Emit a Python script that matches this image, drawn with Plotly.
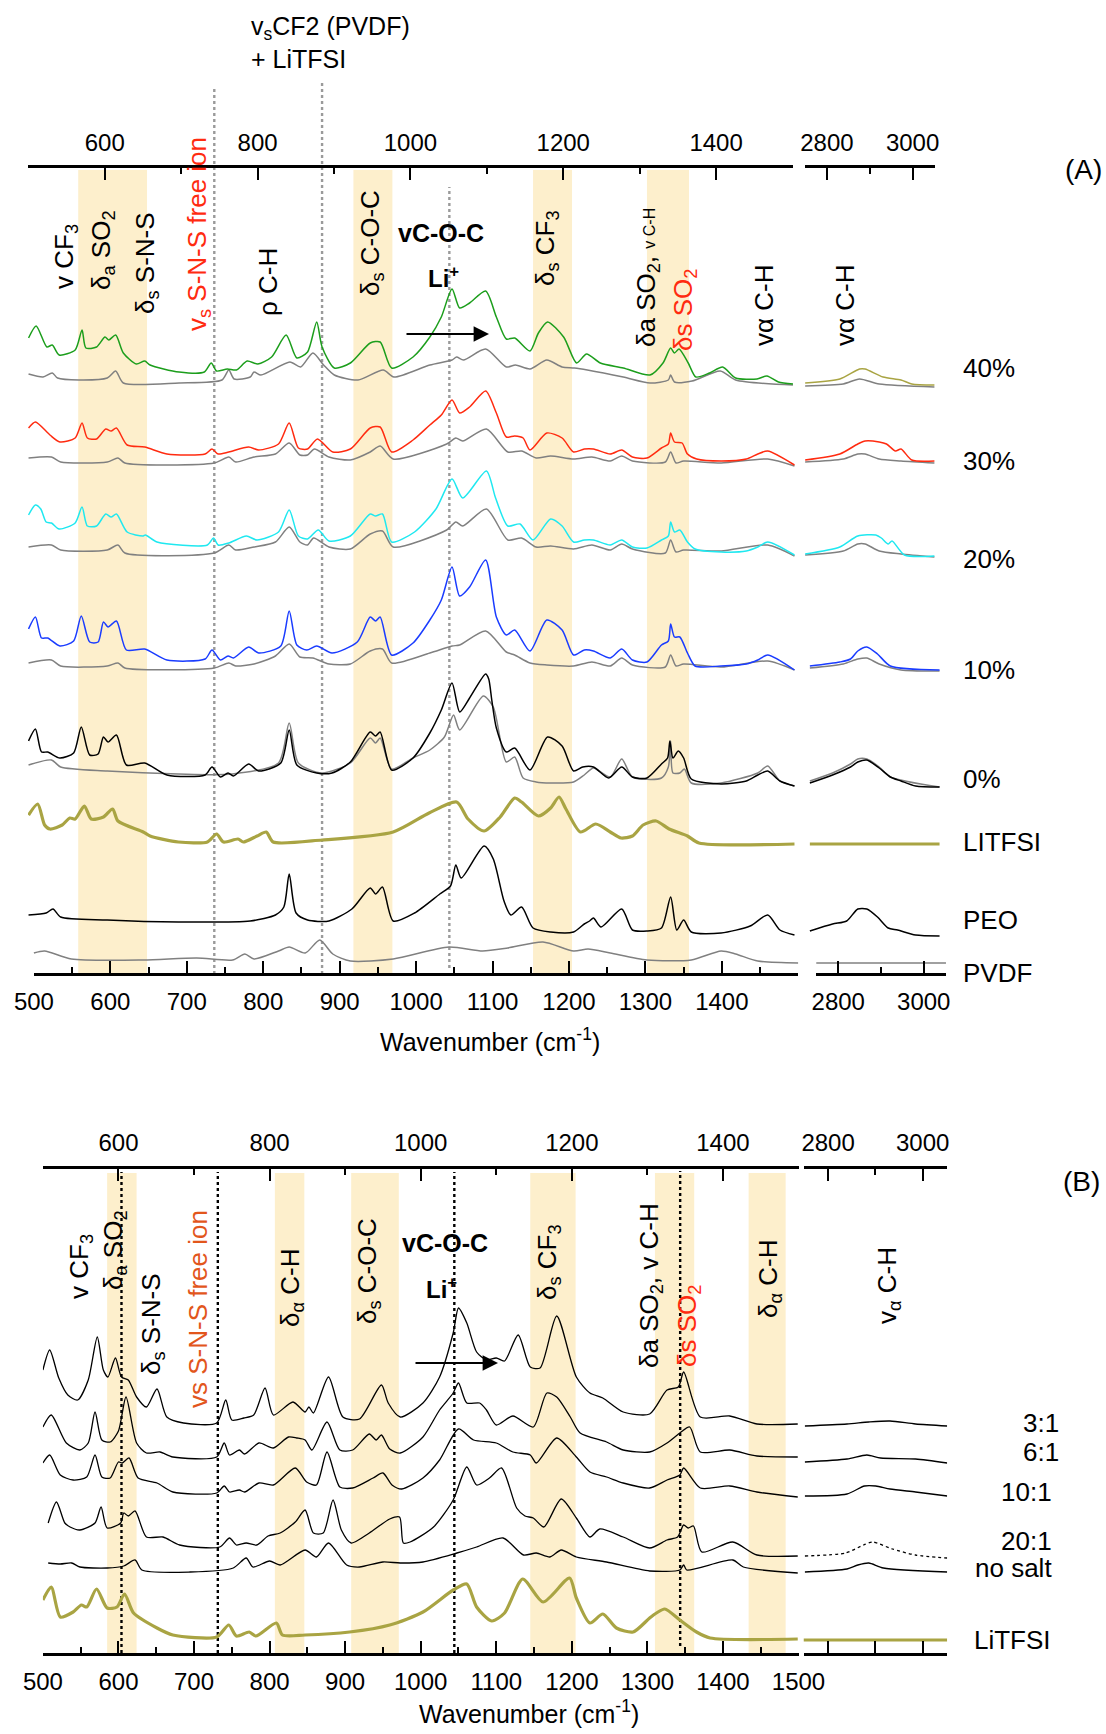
import plotly.graph_objects as go

W, H = 1106, 1734
FONT = "Liberation Sans, Arial, Helvetica, sans-serif"

# ================= Panel A : spectra (wavenumber, intensity a.u.) =================
A40 = [(493,635),(503,647),(517,626),(524,628),(533,618),(554,623),(563,643),(568,625),(582,626),(593,636),
       (598,633),(607,638),(617,620),(634,609),(645,612),(652,608),(690,601),(723,601),(732,610),(739,602),
       (753,604),(765,603),(779,612),(793,609),(811,616),(830,638),(844,615),(858,621),(870,651),(877,626),
       (893,605),(914,610),(940,630),(953,631),(968,605),(996,616),(1018,636),(1033,656),(1047,684),(1057,665),
       (1070,670),(1091,682),(1105,656),(1118,634),(1129,635),(1149,622),(1160,640),(1172,651),(1193,636),
       (1210,610),(1223,619),(1241,610),(1271,605),(1306,598),(1323,610),(1333,625),(1338,620),(1344,624),
       (1356,610),(1366,596),(1384,600),(1401,606),(1418,595),(1446,594),(1459,597),(1474,591),(1493,589)]
A40g = [(493,599),(512,596),(524,600),(531,595),(559,593),(596,595),(607,602),(617,590),(690,590),(746,593),
        (755,603),(762,594),(783,596),(788,601),(797,598),(835,611),(849,606),(865,620),(879,608),(893,598),
        (924,593),(957,603),(971,596),(1018,608),(1047,613),(1053,616),(1062,613),(1091,624),(1118,606),
        (1130,608),(1149,604),(1171,613),(1191,606),(1207,605),(1224,603),(1271,596),(1306,590),(1330,593),
        (1333,598),(1338,591),(1361,592),(1398,602),(1418,593),(1493,588)]
A30 = [(493,545),(502,551),(521,538),(534,531),(554,535),(563,550),(570,535),(582,534),(594,544),
       (601,542),(608,545),(622,528),(645,526),(674,519),(724,519),(733,524),(741,519),(755,521),
       (781,526),(794,523),(820,529),(834,550),(846,525),(858,524),(871,534),(891,521),(914,524),(940,545),
       (953,546),(968,521),(996,533),(1018,548),(1033,558),(1047,573),(1057,560),(1070,566),(1091,582),
       (1105,560),(1118,536),(1129,537),(1140,535),(1149,523),(1171,540),(1191,535),(1206,521),(1220,524),
       (1232,524),(1254,519),(1269,523),(1283,516),(1302,515),(1321,525),(1330,529),(1333,540),(1338,531),
       (1348,530),(1355,519),(1367,514),(1399,512),(1432,514),(1447,519),(1460,522),(1495,508)]
A30g = [(493,515),(523,516),(535,511),(596,511),(610,515),(619,510),(736,510),(755,516),(764,511),(788,516),
        (816,519),(834,530),(848,518),(858,518),(867,524),(886,516),(914,513),(940,521),(953,527),(970,514),
        (1040,529),(1052,535),(1061,532),(1092,544),(1120,521),(1138,522),(1157,515),(1176,517),(1206,514),
        (1230,516),(1254,512),(1269,517),(1283,512),(1326,511),(1333,521),(1340,510),(1350,512),(1399,510),
        (1460,514),(1495,507)]
A20 = [(493,458),(502,468),(509,464),(516,451),(523,450),(533,444),(554,450),(563,466),(570,447),(582,447),
       (594,459),(601,456),(608,459),(622,441),(643,437),(646,438),(661,431),(727,428),(735,435),(741,428),
       (755,430),(778,437),(792,433),(820,441),(834,463),(846,437),(858,434),(872,443),(886,432),(914,437),
       (940,459),(947,457),(956,459),(968,431),(998,441),(1026,464),(1047,494),(1061,475),(1092,502),
       (1104,475),(1120,447),(1136,449),(1153,433),(1176,454),(1191,447),(1206,431),(1220,433),(1232,433),
       (1254,428),(1269,433),(1283,426),(1302,425),(1321,433),(1330,437),(1333,451),(1338,441),(1345,443),
       (1355,431),(1365,424),(1399,421),(1432,422),(1447,426),(1460,431),(1495,418)]
A20g = [(493,426),(523,428),(535,423),(596,423),(610,428),(619,420),(736,420),(755,428),(764,423),(788,426),
        (816,431),(834,446),(848,431),(858,428),(866,435),(886,426),(914,424),(940,439),(956,442),(970,426),
        (1040,443),(1052,451),(1061,447),(1092,464),(1120,433),(1138,435),(1157,426),(1176,427),(1206,424),
        (1230,428),(1254,423),(1269,429),(1283,424),(1326,420),(1333,433),(1340,421),(1350,423),(1399,422),
        (1460,428),(1495,417)]
A10 = [(493,344),(502,356),(510,335),(518,335),(534,327),(552,332),(562,357),(573,331),(584,331),(591,351),
       (597,346),(608,352),(621,323),(645,324),(674,313),(724,314),(733,323),(744,313),(754,317),
       (761,315),(781,326),(794,320),(823,327),(834,362),(844,328),(857,323),(870,327),(890,320),(923,331),
       (940,356),(947,352),(953,356),(968,318),(996,330),(1018,353),(1033,373),(1047,406),(1057,377),
       (1070,386),(1091,413),(1105,356),(1118,338),(1129,343),(1149,322),(1171,353),(1191,343),(1206,318),
       (1220,323),(1232,322),(1254,315),(1269,324),(1283,313),(1302,311),(1321,328),(1330,332),(1333,349),
       (1338,336),(1345,336),(1355,320),(1365,307),(1399,307),(1432,309),(1447,313),(1460,318),(1495,303)]
A10g = [(493,310),(523,313),(535,307),(596,307),(610,310),(619,305),(736,305),(755,310),(764,307),(788,309),
        (816,317),(834,329),(848,316),(865,315),(886,309),(914,309),(940,322),(956,324),(968,310),(1018,320),
        (1047,327),(1057,328),(1091,342),(1118,321),(1129,318),(1149,310),(1171,308),(1206,307),(1230,311),
        (1254,307),(1269,315),(1283,308),(1326,306),(1333,318),(1340,307),(1350,309),(1399,306),(1460,312),
        (1495,303)]
A0 = [(493,232),(502,244),(510,221),(518,221),(534,215),(552,220),(562,246),(573,218),(584,219),(591,236),
      (597,231),(608,238),(621,208),(645,210),(674,198),(724,198),(733,206),(744,196),(754,200),(761,197),
      (781,209),(794,202),(823,210),(834,243),(844,208),(870,200),(890,200),(914,211),(940,241),(947,237),
      (953,241),(968,203),(996,215),(1018,240),(1033,263),(1047,290),(1057,261),(1070,275),(1091,299),
      (1095,294),(1099,273),(1105,245),(1118,221),(1129,225),(1149,203),(1172,236),(1191,227),(1206,202),
      (1218,206),(1232,206),(1252,195),(1269,206),(1283,196),(1302,195),(1321,209),(1329,215),(1332,232),
      (1336,215),(1343,222),(1350,215),(1360,194),(1399,189),(1432,192),(1447,198),(1460,202),(1476,192),
      (1495,187)]
A0g = [(493,208),(523,213),(535,206),(596,202),(689,199),(759,199),(820,210),(834,250),(846,210),(877,200),
       (914,210),(940,235),(947,230),(953,235),(968,204),(996,215),(1018,223),(1037,236),(1049,258),
       (1057,243),(1088,277),(1101,266),(1118,211),(1129,216),(1140,195),(1157,191),(1176,190),(1206,191),
       (1220,198),(1232,205),(1254,196),(1269,214),(1283,196),(1321,195),(1330,206),(1333,232),(1336,200),
       (1345,200),(1351,204),(1360,190),(1399,190),(1447,200),(1460,207),(1476,192),(1495,187)]
A_LiTFSI = [(493,158),(505,169),(514,148),(521,144),(537,148),(547,155),(554,154),(566,167),(575,154),
            (591,156),(603,164),(610,152),(643,141),(652,137),(689,131),(727,131),(739,139),(748,131),
            (767,134),(774,131),(792,137),(804,141),(813,131),(877,133),(970,141),(1017,160),(1053,171),
            (1068,154),(1089,142),(1110,156),(1129,175),(1138,171),(1160,157),(1176,165),(1187,176),
            (1196,164),(1215,141),(1235,149),(1254,141),(1268,135),(1283,137),(1297,148),(1314,152),
            (1331,144),(1355,137),(1370,130),(1495,129)]
A_PEO = [(493,58),(516,60),(525,64),(535,56),(596,53),(689,51),(783,52),(816,58),(827,66),(834,99),(843,60),
         (858,53),(886,52),(916,64),(940,85),(947,79),(956,86),(970,52),(998,60),(1031,79),(1045,87),
         (1052,108),(1059,95),(1089,127),(1101,114),(1115,72),(1124,58),(1138,66),(1153,45),(1176,41),
         (1206,41),(1220,49),(1227,52),(1232,55),(1242,46),(1269,64),(1283,43),(1302,42),(1321,45),(1333,76),
         (1341,43),(1350,53),(1360,41),(1399,40),(1437,47),(1460,58),(1476,43),(1495,38)]
A_PVDF = [(500,20),(514,22),(549,14),(643,13),(713,15),(760,13),(776,19),(788,14),(820,22),(834,26),(855,20),
          (874,33),(891,19),(914,12),(970,14),(1043,26),(1087,22),(1120,25),(1166,31),(1206,22),(1225,24),
          (1254,20),(1302,13),(1360,13),(1399,22),(1418,19),(1447,12),(1500,10)]
# C-H stretching region (panel A)
A40_CH = [(2749,590),(2830,594),(2876,604),(2889,604),(2931,596),(2973,593),(2998,589),(3051,588)]
A40g_CH = [(2749,587),(2838,589),(2876,594),(2922,589),(3051,586)]
A30_CH = [(2749,513),(2830,519),(2872,529),(2889,532),(2922,531),(2939,529),(2960,522),(2973,524),(2998,513),(3051,512)]
A30g_CH = [(2749,511),(2838,514),(2872,519),(2889,519),(2922,514),(2973,512),(3051,510)]
A20_CH = [(2749,419),(2830,426),(2872,437),(2914,438),(2927,435),(2943,429),(2952,432),(2981,418),(3051,417)]
A20g_CH = [(2749,418),(2838,422),(2872,429),(2889,429),(2922,422),(2973,419),(3051,416)]
A10_CH = [(2760,307),(2830,311),(2855,314),(2872,322),(2893,326),(2918,319),(2948,307),(3063,303)]
A10g_CH = [(2760,305),(2838,309),(2872,314),(2893,315),(2922,309),(2973,303),(3063,302)]
A0_CH = [(2760,190),(2813,198),(2855,206),(2872,211),(2893,213),(2922,205),(2948,196),(2973,192),(3007,187),(3063,186)]
A0g_CH = [(2760,192),(2813,200),(2855,209),(2872,214),(2893,214),(2922,206),(2948,196),(3063,186)]
A_LiTFSI_CH = [(2760,129),(3063,129)]
A_PEO_CH = [(2760,42),(2813,49),(2846,52),(2872,64),(2893,64),(2918,56),(2943,45),(2965,43),(3007,38),(3063,37)]
A_PVDF_CH = [(2775,10),(3078,10)]

A_labels = ["40%", "30%", "20%", "10%", "0%", "LITFSI", "PEO", "PVDF"]
A_bands = [(558,648),(918,969),(1153,1204),(1302,1357)]
A_guides = [736, 877, 1043.5]

# ================= Panel B =================
B31 = [(500,283),(509,303),(521,275),(533,258),(546,253),(560,273),(572,316),(580,283),(586,276),(596,295),
       (604,276),(613,273),(624,256),(637,246),(651,264),(664,236),(686,230),(730,230),(742,253),(750,233),
       (766,235),(779,238),(794,265),(805,238),(831,251),(847,241),(852,246),(858,240),(878,276),(897,236),
       (919,234),(948,268),(957,250),(973,236),(1003,250),(1025,276),(1043,320),(1050,345),(1061,330),
       (1074,301),(1087,293),(1100,295),(1111,292),(1129,318),(1145,286),(1158,285),(1180,337),(1206,276),
       (1224,260),(1241,255),(1268,241),(1303,239),(1326,263),(1341,266),(1348,281),(1370,236),(1409,237),
       (1445,229),(1499,229)]
B61 = [(500,226),(511,238),(531,210),(549,203),(560,210),(569,241),(578,213),(589,211),(600,222),(610,256),
       (624,210),(637,200),(655,201),(672,196),(730,196),(740,210),(747,198),(760,203),(767,199),(786,210),
       (805,205),(825,216),(836,215),(847,213),(856,203),(876,231),(893,203),(910,203),(932,219),(941,213),
       (948,218),(959,204),(973,200),(1003,216),(1025,243),(1043,260),(1050,270),(1061,250),(1078,250),
       (1087,243),(1100,228),(1122,237),(1149,226),(1167,260),(1180,256),(1198,236),(1211,220),(1246,211),
       (1268,203),(1303,201),(1326,210),(1343,220),(1356,226),(1370,201),(1409,203),(1445,197),(1499,196)]
B101 = [(500,190),(509,198),(523,178),(540,173),(558,176),(569,198),(578,176),(589,175),(600,191),(605,190),
        (614,195),(626,175),(651,170),(672,161),(730,160),(740,167),(747,161),(760,163),(767,161),(786,170),
        (805,168),(834,185),(849,171),(862,168),(876,201),(893,166),(910,165),(937,175),(950,180),(962,168),
        (975,164),(1003,175),(1025,193),(1050,224),(1070,213),(1100,210),(1122,201),(1145,198),(1153,190),
        (1180,215),(1206,196),(1224,181),(1246,176),(1268,170),(1303,165),(1326,173),(1343,178),(1348,185),
        (1370,165),(1409,167),(1445,161),(1499,156)]
B201 = [(507,130),(518,151),(529,130),(536,126),(549,123),(569,130),(577,146),(585,125),(603,130),(607,140),
        (613,137),(622,142),(637,116),(659,116),(681,108),(734,106),(747,115),(756,108),(769,110),(783,108),
        (798,117),(814,120),(834,131),(847,143),(858,120),(871,120),(884,153),(895,123),(908,110),(932,120),
        (959,134),(972,136),(977,110),(986,111),(1017,126),(1043,153),(1061,186),(1074,168),(1091,175),
        (1107,185),(1127,145),(1138,137),(1149,135),(1163,126),(1186,154),(1206,135),(1224,116),(1237,124),
        (1268,116),(1303,105),(1326,113),(1340,116),(1348,128),(1354,125),(1361,127),(1372,101),(1413,111),
        (1445,98),(1499,97)]
B_nosalt = [(507,90),(523,89),(538,90),(549,86),(585,85),(607,87),(622,93),(631,83),(695,81),(752,85),(769,95),
            (778,86),(800,92),(814,88),(847,103),(862,96),(878,110),(902,88),(919,86),(950,91),(973,90),
            (1003,91),(1048,100),(1074,106),(1109,115),(1136,98),(1153,100),(1171,96),(1186,103),(1206,96),
            (1246,91),(1303,82),(1343,83),(1348,88),(1352,83),(1413,93),(1427,86),(1499,80)]
B_LiTFSI = [(500,53),(511,66),(523,36),(540,41),(551,48),(558,46),(571,64),(585,45),(598,46),(608,59),(620,40),
            (651,25),(672,18),(730,16),(746,28),(756,17),(773,21),(782,17),(809,30),(817,18),(847,18),(906,21),
            (959,28),(1003,41),(1043,63),(1061,69),(1074,46),(1094,32),(1111,40),(1135,74),(1162,51),(1197,75),
            (1206,55),(1224,30),(1241,39),(1259,25),(1281,21),(1303,35),(1312,40),(1323,44),(1343,33),(1365,21),
            (1383,15),(1499,14)]
B31_CH = [(2751,227),(2840,229),(2886,231),(2931,232),(2985,229),(3052,227)]
B61_CH = [(2751,191),(2840,194),(2882,198),(2911,195),(2985,194),(3052,190)]
B101_CH = [(2751,157),(2840,159),(2877,167),(2901,167),(2931,164),(2985,161),(3052,157)]
B201_CH = [(2751,97),(2837,100),(2875,108),(2894,111),(2936,104),(2985,98),(3052,95)]
B_nosalt_CH = [(2751,81),(2840,84),(2863,88),(2886,90),(2917,85),(3052,81)]
B_LiTFSI_CH = [(2748,13),(3052,13)]

B_labels = ["3:1", "6:1", "10:1", "20:1", "no salt", "LiTFSI"]
B_bands = [(585,624),(807,846),(908,971),(1145,1205),(1310,1362),(1434,1483)]
B_guides = [604, 731.5, 1044.5, 1343.4]

# ticks
A_bot_ticks = [500,600,700,800,900,1000,1100,1200,1300,1400,1500]
A_bot_text = ["500","600","700","800","900","1000","1100","1200","1300","1400"," "]
B_bot_ticks = [500,600,700,800,900,1000,1100,1200,1300,1400,1500]
TOP_ticks = [600,800,1000,1200,1400]
TOP_minor = [500,700,900,1100,1300,1500]
BOT_minor = [550,650,750,850,950,1050,1150,1250,1350,1450]
CH_ticks = [2800,3000]
CH_minor = [2900]

# ---------------- colours ----------------
GREEN, RED, CYAN, BLUE = "#1c9e1c", "#ff2b10", "#1fe8f0", "#1a3cff"
GRAY, BLACK, OLIVE = "#808080", "#000000", "#a9a443"
BAND = "#fdefcc"
ORANGE = "#e2561c"

fig = go.Figure()


def add(pts, color, xa, ya, width=1.5, dash=None, opacity=1.0):
    x = [p[0] for p in pts]
    y = [p[1] for p in pts]
    fig.add_trace(go.Scatter(x=x, y=y, mode="lines", xaxis=xa, yaxis=ya, hoverinfo="skip", showlegend=False,
                             opacity=opacity,
                             line=dict(color=color, width=width, shape="spline", smoothing=0.7, dash=dash)))

# Panel A main (hidden data axis x / y)
for pts, col, w in [(A_PVDF, GRAY, 1.5), (A_PEO, BLACK, 1.5), (A_LiTFSI, OLIVE, 3.2),
                    (A0g, GRAY, 1.5), (A0, BLACK, 1.5), (A10g, GRAY, 1.5), (A10, BLUE, 1.5),
                    (A20g, GRAY, 1.5), (A20, CYAN, 1.5), (A30g, GRAY, 1.5), (A30, RED, 1.5),
                    (A40g, GRAY, 1.5), (A40, GREEN, 1.5)]:
    add(pts, col, "x", "y", w)
# Panel A C-H region (hidden data axis x4 / y10)
for pts, col, w in [(A_PVDF_CH, GRAY, 1.5), (A_PEO_CH, BLACK, 1.5), (A_LiTFSI_CH, OLIVE, 3.2),
                    (A0g_CH, GRAY, 1.5), (A0_CH, BLACK, 1.5), (A10g_CH, GRAY, 1.5), (A10_CH, BLUE, 1.5),
                    (A20g_CH, GRAY, 1.5), (A20_CH, CYAN, 1.5), (A30g_CH, GRAY, 1.5), (A30_CH, RED, 1.5),
                    (A40g_CH, GRAY, 1.5), (A40_CH, OLIVE, 1.5)]:
    add(pts, col, "x4", "y10", w)
# invisible carriers so every drawn axis owns a subplot
add(A_PVDF, GRAY, "x2", "y3", 1, opacity=0)
add(A_PVDF, GRAY, "x3", "y4", 1, opacity=0)
add(A_PVDF_CH, GRAY, "x5", "y5", 1, opacity=0)
add(A_PVDF_CH, GRAY, "x6", "y6", 1, opacity=0)
add(B_LiTFSI, GRAY, "x8", "y7", 1, opacity=0)
add(B_LiTFSI_CH, GRAY, "x10", "y9", 1, opacity=0)
# Panel B
for pts, col, w in [(B_LiTFSI, OLIVE, 3.2), (B_nosalt, BLACK, 1.3), (B201, BLACK, 1.3), (B101, BLACK, 1.3),
                    (B61, BLACK, 1.3), (B31, BLACK, 1.3)]:
    add(pts, col, "x7", "y2", w)
for pts, col, w, d in [(B_LiTFSI_CH, OLIVE, 3.2, None), (B_nosalt_CH, BLACK, 1.3, None),
                       (B201_CH, BLACK, 1.3, "dot"), (B101_CH, BLACK, 1.3, None),
                       (B61_CH, BLACK, 1.3, None), (B31_CH, BLACK, 1.3, None)]:
    add(pts, col, "x9", "y8", w, d)


def dom(a, b):
    return [a / W, b / W]


def xaxis(domain, rng, side, anchor, tickvals=None, ticktext=None, minor=None, labels=True, visible=True):
    d = dict(domain=domain, range=rng, side=side, anchor=anchor, visible=visible, showgrid=False,
             zeroline=False, showline=True, linecolor="black", linewidth=2.6, ticks="inside", ticklen=12,
             tickwidth=2.4, tickcolor="black", showticklabels=labels, fixedrange=True, automargin=False,
             tickfont=dict(size=24, color="black", family=FONT), ticklabelstandoff=5)
    if tickvals is not None:
        d["tickmode"] = "array"
        d["tickvals"] = tickvals
        d["ticktext"] = ticktext if ticktext is not None else [str(v) for v in tickvals]
    if minor is not None:
        d["minor"] = dict(tickmode="array", tickvals=minor, ticks="inside", ticklen=6, tickwidth=2.4,
                          tickcolor="black", showgrid=False)
    return d


def yaxis(top_px, bot_px, rng, anchor):
    return dict(domain=[1 - bot_px / H, 1 - top_px / H], range=rng, visible=False, fixedrange=True,
                anchor=anchor, showgrid=False, zeroline=False, automargin=False)


layout = dict(width=W, height=H, margin=dict(l=0, r=0, t=0, b=0, pad=0, autoexpand=False),
              paper_bgcolor="white", plot_bgcolor="rgba(0,0,0,0)", showlegend=False,
              font=dict(family=FONT, color="black"))

YA = (168, 973, [0, 805])
YB = (1168.7, 1653, [0, 484.3])
# panel A axes
layout["xaxis"] = xaxis(dom(28, 798.3), [492.3, 1500], "bottom", "y", visible=False)
layout["yaxis"] = yaxis(YA[0], YA[1], YA[2], "x")
layout["xaxis4"] = xaxis(dom(804, 947), [2746.3, 3080.4], "bottom", "y10", visible=False)
layout["yaxis10"] = yaxis(YA[0], YA[1], YA[2], "x4")
layout["xaxis2"] = xaxis(dom(33.9, 798.3), [500, 1500], "bottom", "y3", A_bot_ticks, A_bot_text, BOT_minor)
layout["yaxis3"] = yaxis(YA[0], YA[1], YA[2], "x2")
layout["xaxis3"] = xaxis(dom(28.3, 792.5), [500, 1500], "top", "y4", TOP_ticks, None, TOP_minor)
layout["yaxis4"] = yaxis(YA[0], YA[1], YA[2], "x3")
layout["xaxis5"] = xaxis(dom(804.6, 935.3), [2748, 3053], "top", "y5", CH_ticks, None, CH_minor)
layout["yaxis5"] = yaxis(YA[0], YA[1], YA[2], "x5")
layout["xaxis6"] = xaxis(dom(816, 946), [2748, 3052], "bottom", "y6", CH_ticks, None, CH_minor)
layout["yaxis6"] = yaxis(YA[0], YA[1], YA[2], "x6")
# panel B axes
layout["xaxis7"] = xaxis(dom(42.9, 798.5), [500, 1500], "bottom", "y2", B_bot_ticks, None, BOT_minor)
layout["yaxis2"] = yaxis(YB[0], YB[1], YB[2], "x7")
layout["xaxis8"] = xaxis(dom(42.9, 798.5), [500, 1500], "top", "y7", TOP_ticks, None, TOP_minor)
layout["yaxis7"] = yaxis(YB[0], YB[1], YB[2], "x8")
layout["xaxis9"] = xaxis(dom(803.5, 947.2), [2748, 3052], "bottom", "y8", [2800, 2900, 3000], None, None, labels=False)
layout["yaxis8"] = yaxis(YB[0], YB[1], YB[2], "x9")
layout["xaxis10"] = xaxis(dom(803.5, 947.2), [2748, 3052], "top", "y9", CH_ticks, None, CH_minor)
layout["yaxis9"] = yaxis(YB[0], YB[1], YB[2], "x10")

fig.update_layout(**layout)

shapes = []
for a, b in A_bands:
    shapes.append(dict(type="rect", xref="x", yref="paper", x0=a, x1=b, y0=1 - 975 / H, y1=1 - 170 / H,
                       fillcolor=BAND, line=dict(width=0), layer="below"))
for a, b in B_bands:
    shapes.append(dict(type="rect", xref="x7", yref="paper", x0=a, x1=b, y0=1 - 1656 / H, y1=1 - 1173 / H,
                       fillcolor=BAND, line=dict(width=0), layer="below"))
for xv, top, bot in zip(A_guides, [89, 83, 187], [974, 974, 968]):
    shapes.append(dict(type="line", xref="x", yref="paper", x0=xv, x1=xv, y0=1 - bot / H, y1=1 - top / H,
                       line=dict(color="#9a9a9a", width=2.4, dash="dot"), layer="below"))
for xv, top, bot in zip(B_guides, [1172, 1172, 1172, 1171], [1653, 1653, 1653, 1646]):
    shapes.append(dict(type="line", xref="x7", yref="paper", x0=xv, x1=xv, y0=1 - bot / H, y1=1 - top / H,
                       line=dict(color="black", width=2.4, dash="dot"), layer="below"))
fig.update_layout(shapes=shapes)

ann = []


def txt(text, x, y, size=26, color="black", angle=0, xanchor="center", yanchor="middle", bold=False, align="center"):
    if bold:
        text = "<b>" + text + "</b>"
    ann.append(dict(text=text, x=x / W, y=1 - y / H, xref="paper", yref="paper", showarrow=False,
                    textangle=angle, xanchor=xanchor, yanchor=yanchor, align=align, borderpad=0,
                    font=dict(size=size, color=color, family=FONT)))


def arrow(x0, x1, y):
    ann.append(dict(x=x1 / W, y=1 - y / H, ax=x0 - x1, ay=0, xref="paper", yref="paper",
                    axref="pixel", ayref="pixel", showarrow=True, arrowhead=2, arrowsize=1.4,
                    arrowwidth=2.2, arrowcolor="black", text=""))

# Panel A annotations
txt("v CF<sub>3</sub>", 66, 257, angle=-90)
txt("δ<sub>a</sub> SO<sub>2</sub>", 102, 250, angle=-90)
txt("δ<sub>s</sub> S-N-S", 146, 263, angle=-90)
txt("v<sub>s</sub> S-N-S free ion", 198, 234, angle=-90, color=RED)
txt("ρ C-H", 268, 282, angle=-90)
txt("δ<sub>s</sub> C-O-C", 371, 243, angle=-90)
txt("vC-O-C", 441, 233, size=25, bold=True)
txt("Li<sup>+</sup>", 443, 277, size=24, bold=True)
arrow(405, 489, 334)
txt("δ<sub>s</sub> CF<sub>3</sub>", 546, 248, angle=-90)
txt("δa SO<sub>2</sub>, <span style='font-size:16px'>v C-H</span>", 648, 278, angle=-90)
txt("δs SO<sub>2</sub>", 684, 310, angle=-90, color=RED)
txt("vα C-H", 764, 306, angle=-90)
txt("vα C-H", 845, 306, angle=-90)
txt("v<sub>s</sub>CF2 (PVDF)<br>+ LiTFSI", 250, 42, size=25, xanchor="left", align="left")
txt("(A)", 1083, 170, size=28)
for lab, yv in zip(A_labels, [368, 461, 559, 670, 779, 842, 920, 973]):
    txt(lab, 962, yv, size=26, xanchor="left")
txt("Wavenumber (cm<sup>-1</sup>)", 490, 1040, size=25)

# Panel B annotations
txt("v CF<sub>3</sub>", 80, 1267, angle=-90)
txt("δ<sub>a</sub> SO<sub>2</sub>", 114, 1250, angle=-90)
txt("δ<sub>s</sub> S-N-S", 152, 1324, angle=-90)
txt("vs S-N-S free ion", 198, 1309, angle=-90, color=ORANGE)
txt("δ<sub>α</sub> C-H", 291, 1288, angle=-90)
txt("δ<sub>s</sub> C-O-C", 368, 1271, angle=-90)
txt("vC-O-C", 445, 1243, size=25, bold=True)
txt("Li<sup>+</sup>", 441, 1288, size=24, bold=True)
arrow(414, 498, 1363)
txt("δ<sub>s</sub> CF<sub>3</sub>", 548, 1262, angle=-90)
txt("δa SO<sub>2</sub>, v C-H", 650, 1286, angle=-90)
txt("δs SO<sub>2</sub>", 688, 1326, angle=-90, color=RED)
txt("δ<sub>α</sub> C-H", 769, 1279, angle=-90)
txt("v<sub>α</sub> C-H", 888, 1286, angle=-90)
txt("(B)", 1081, 1181, size=28)
for lab, xr, yv in zip(B_labels, [1060, 1060, 1053, 1053, 1053, 1052], [1423, 1452, 1492, 1541, 1568, 1640]):
    txt(lab, xr, yv, size=26, xanchor="right")
txt("Wavenumber (cm<sup>-1</sup>)", 529, 1712, size=25)

fig.update_layout(annotations=ann)
fig.write_html("out.html", config={"displayModeBar": False},
               post_script="document.body.style.margin='0px';document.body.style.padding='0px';")
